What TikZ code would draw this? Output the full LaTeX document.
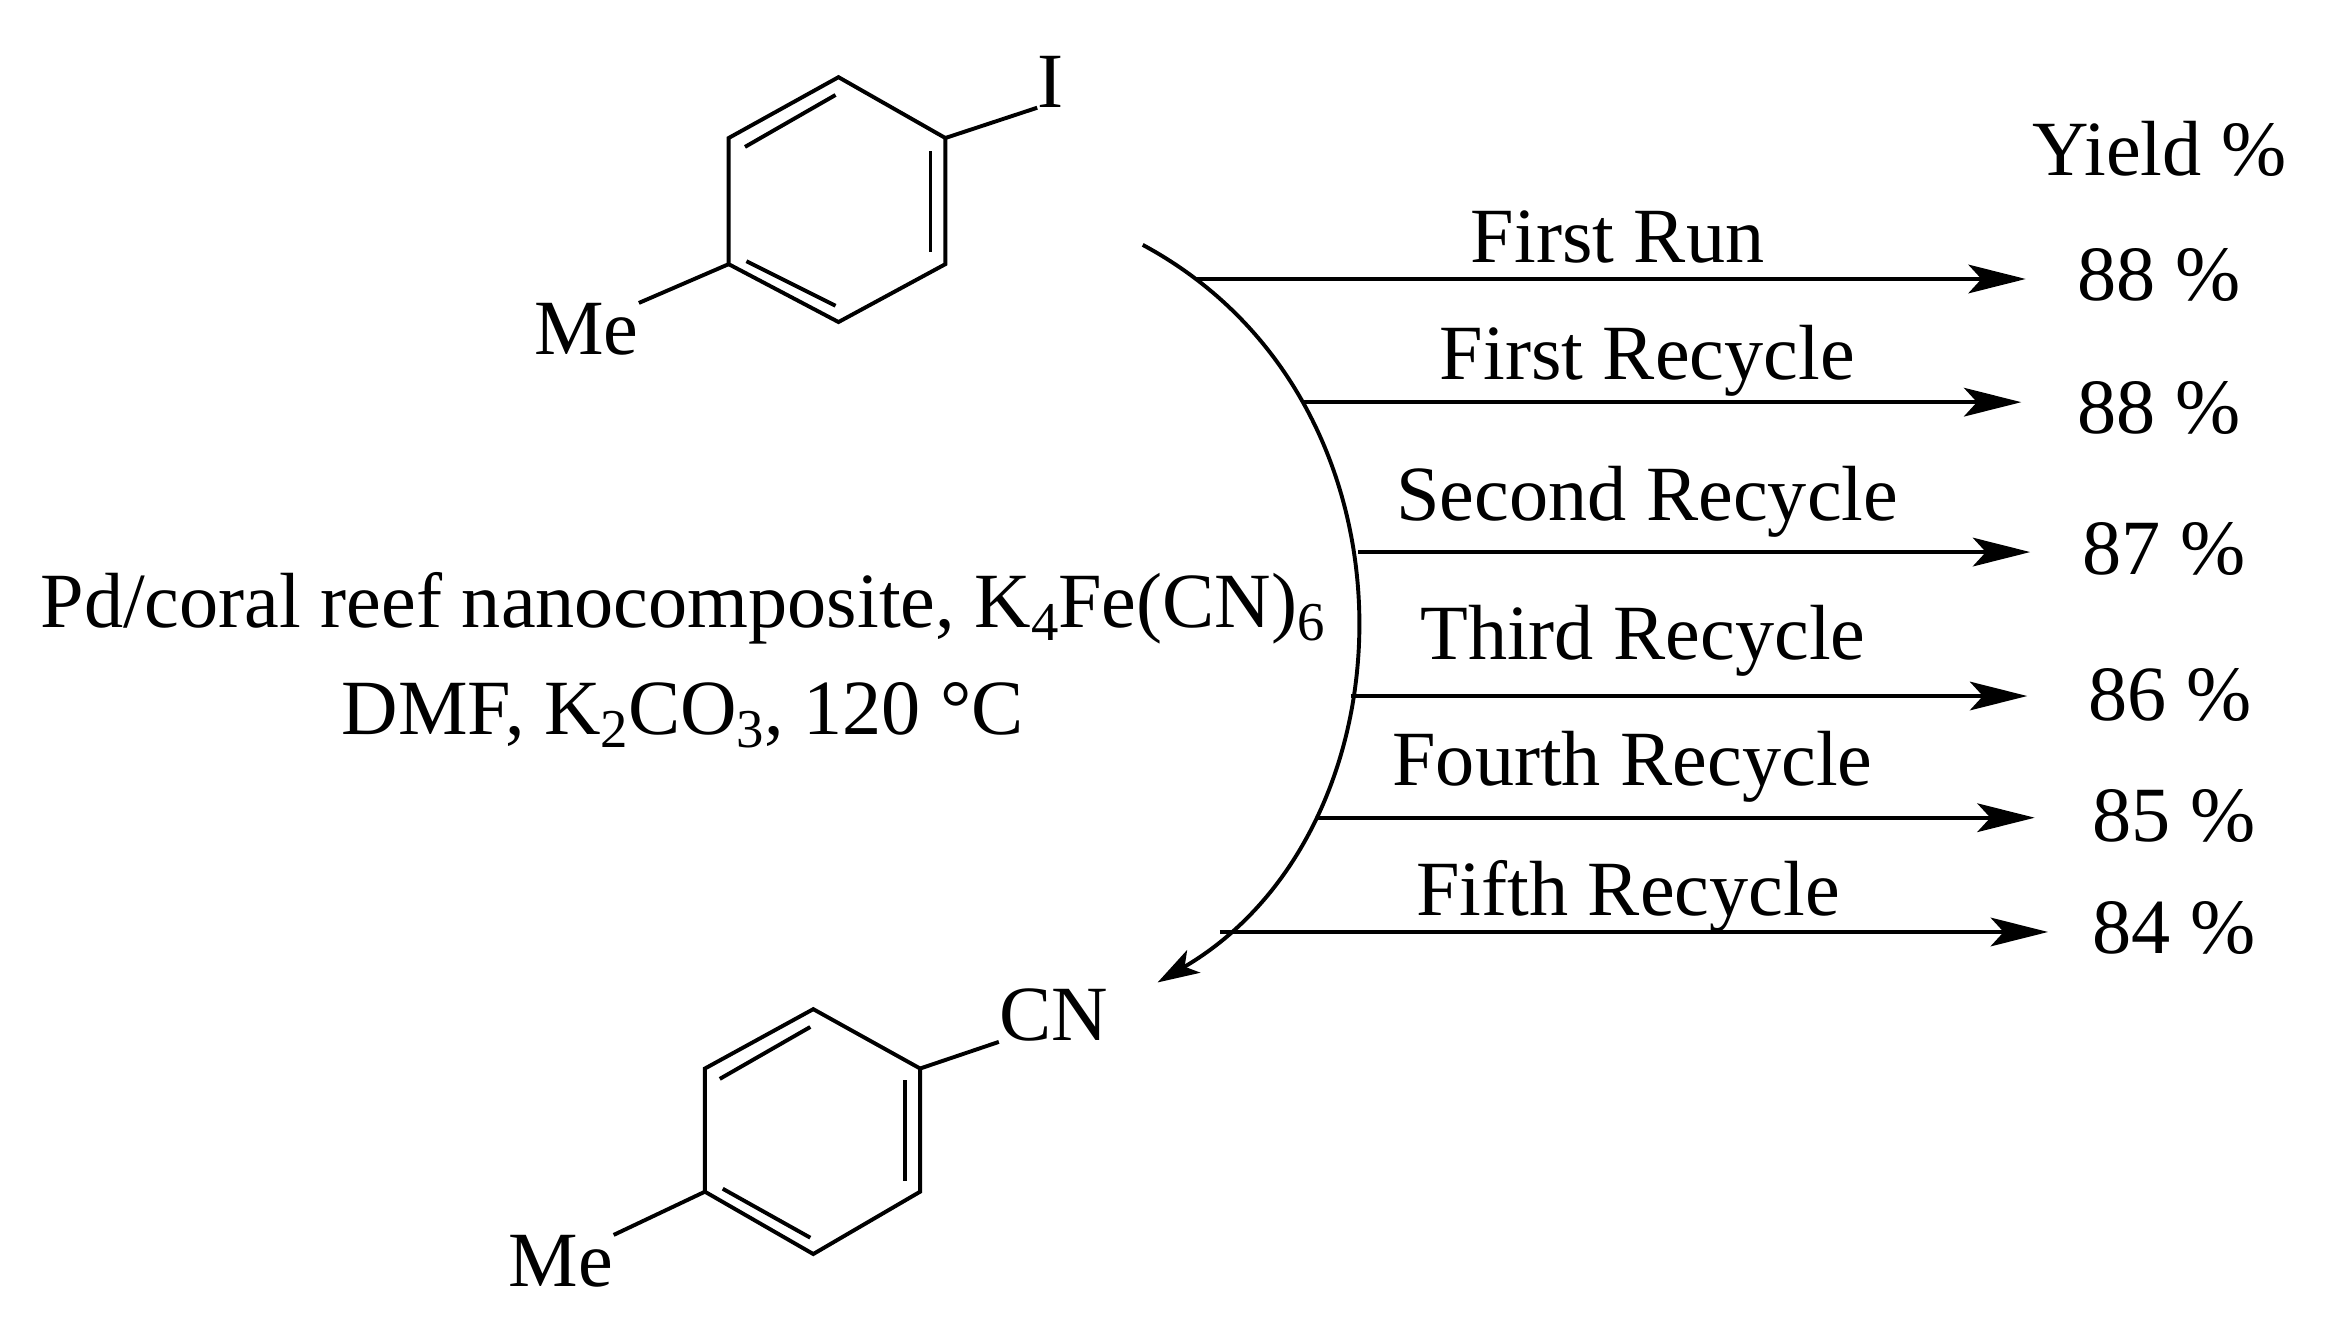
\documentclass[tikz,border=0pt]{standalone}
\usepackage{fontspec}
\setmainfont{Liberation Serif}
\usetikzlibrary{arrows.meta}
\newcommand{\sbs}[1]{\raisebox{-0.35ex}{\fontsize{21}{23}\selectfont #1}}
\begin{document}
\begin{tikzpicture}[x=0.02cm,y=-0.02cm,
  bond/.style={line width=1.5pt},
  arr/.style={line width=1.5pt,-{Stealth[length=22pt,width=11pt,inset=5pt]}},
  lbl/.style={font=\fontsize{30}{34}\selectfont,inner sep=0pt}]
\useasboundingbox (0,0) rectangle (1568,898);
% top ring
\coordinate (a1) at (565,52); \coordinate (a2) at (637,93); \coordinate (a3) at (637,178);
\coordinate (a4) at (565,217); \coordinate (a5) at (491,178); \coordinate (a6) at (491,93);
\draw[bond] (a1)--(a2)--(a3)--(a4)--(a5)--(a6)--cycle;
\draw[bond] (502,99)--(563,64);
\draw[bond] (627,102)--(627,170);
\draw[bond] (503,176)--(563,206);
\node[lbl] (I) at (708,55) {I};
\draw[bond] (a2)--(I.south west);
\node[lbl] (me1) at (395,222) {Me};
\draw[bond] (a5)--(me1.north east);
% bottom ring
\coordinate (b1) at (548,680); \coordinate (b2) at (620,720); \coordinate (b3) at (620,803);
\coordinate (b4) at (548,845); \coordinate (b5) at (475,803); \coordinate (b6) at (475,720);
\draw[bond] (b1)--(b2)--(b3)--(b4)--(b5)--(b6)--cycle;
\draw[bond] (485,727)--(546,692);
\draw[bond] (610,728)--(610,796);
\draw[bond] (487,801)--(546,834);
\node[lbl] (cn) at (710,684) {CN};
\draw[bond] (b2)--(cn.south west);
\node[lbl] (me2) at (378,850) {Me};
\draw[bond] (b5)--(me2.north east);
% arc
\coordinate (s) at (770,165); \coordinate (e) at (780,662);
\draw[line width=1.5pt,-{Stealth[length=16pt,width=10pt,inset=4pt]}] (s) .. controls (965,270) and (955,560) .. (e);
% conditions
\node[lbl] (c1) at (460,410) {Pd/coral reef nanocomposite, K\sbs{4}Fe(CN)\sbs{6}};
\node[lbl] (c2) at (460,482) {DMF, K\sbs{2}CO\sbs{3}, 120 °C};
% runs
\foreach \y/\xs/\xe/\t/\tx/\ty/\v/\vx/\vy/\n in {
 188/805/1365/First Run/1090/160/88 \%/1455/185/r1,
 271/877/1362/First Recycle/1110/243/88 \%/1455/275/r2,
 372/915/1368/Second Recycle/1110/338/87 \%/1458/370/r3,
 469/910/1366/Third Recycle/1107/432/86 \%/1462/468/r4,
 551/887/1371/Fourth Recycle/1100/517/85 \%/1465/550/r5,
 628/822/1380/Fifth Recycle/1097/604/84 \%/1465/625/r6}{
 \coordinate (\n s) at (\xs,\y); \coordinate (\n e) at (\xe,\y);
 \draw[arr] (\n s)--(\n e);
 \node[lbl] (\n t) at (\tx,\ty) {\t};
 \node[lbl] (\n v) at (\vx,\vy) {\v};
}
\node[lbl] (yl) at (1455,100) {Yield \%};
\end{tikzpicture}
\end{document}
